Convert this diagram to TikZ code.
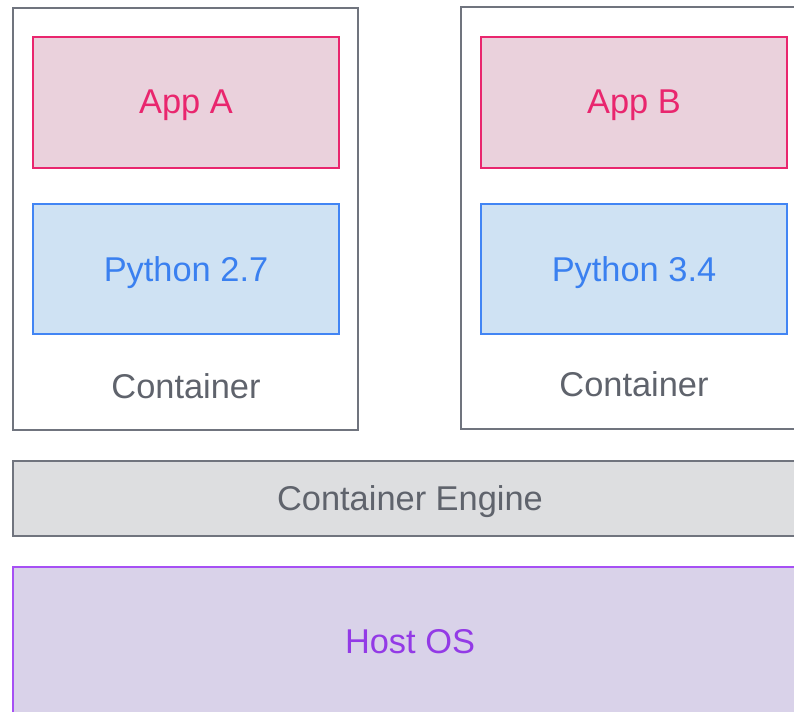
\documentclass[tikz,border=0pt]{standalone}
\usepackage{fontspec}
\setmainfont{Liberation Sans}
\usepackage{xcolor}
\usetikzlibrary{positioning}

\definecolor{appline}{RGB}{233,38,110}
\definecolor{appfill}{RGB}{234,209,220}
\definecolor{pyline}{RGB}{66,133,244}
\definecolor{pyfill}{RGB}{207,226,243}
\definecolor{pytext}{RGB}{58,128,240}
\definecolor{grayline}{RGB}{112,116,126}
\definecolor{grayfill}{RGB}{221,222,224}
\definecolor{graytext}{RGB}{95,99,108}
\definecolor{hostline}{RGB}{166,80,244}
\definecolor{hostfill}{RGB}{217,210,233}
\definecolor{hosttext}{RGB}{147,58,230}

\tikzset{
  bigtext/.style={font=\fontsize{25.8}{30}\selectfont, text depth=0pt},
  layerbox/.style={anchor=north west, inner sep=0pt, outer sep=0pt},
  appbox/.style={layerbox, draw=appline, fill=appfill, line width=1.1pt,
    minimum width=229.5pt, minimum height=98.25pt},
  pybox/.style={layerbox, draw=pyline, fill=pyfill, line width=1.1pt,
    minimum width=229.5pt, minimum height=97.5pt},
  ctrbox/.style={layerbox, draw=grayline, line width=1.2pt,
    minimum width=258.75pt, minimum height=316.5pt}
}

\begin{document}
\begin{tikzpicture}[x=0.75pt,y=0.75pt,yscale=-1,xscale=1]

\useasboundingbox (0,0) rectangle (794,712);
\clip (0,0) rectangle (794,712);

% containers
\node [ctrbox] (ctrA) at (13,8) {};
\node [ctrbox] (ctrB) at (461,7) {};

% apps
\node [appbox] (appA) at (33,37) {};
\node [appbox] (appB) at (481,37) {};
\draw (186,102) node [bigtext, text=appline] (appAtxt) {App A};
\draw (634,102) node [bigtext, text=appline] (appBtxt) {App B};

% runtimes
\node [pybox] (pyA) at (33,204) {};
\node [pybox] (pyB) at (481,204) {};
\draw (186,269) node [bigtext, text=pytext] (pyAtxt) {Python 2.7};
\draw (634,269) node [bigtext, text=pytext] (pyBtxt) {Python 3.4};

\draw (186,386) node [bigtext, text=graytext] (ctrAtxt) {Container};
\draw (634,384) node [bigtext, text=graytext] (ctrBtxt) {Container};

% engine and host
\node [layerbox, draw=grayline, fill=grayfill, line width=1.2pt,
  minimum width=620pt, minimum height=56.25pt] (engine) at (13,461) {};
\draw (410,498) node [bigtext, text=graytext] (enginetxt) {Container Engine};

\node [layerbox, draw=hostline, fill=hostfill, line width=1.2pt,
  minimum width=620pt, minimum height=150pt] (host) at (13,567) {};
\draw (410,641) node [bigtext, text=hosttext] (hosttxt) {Host OS};

\end{tikzpicture}
\end{document}
